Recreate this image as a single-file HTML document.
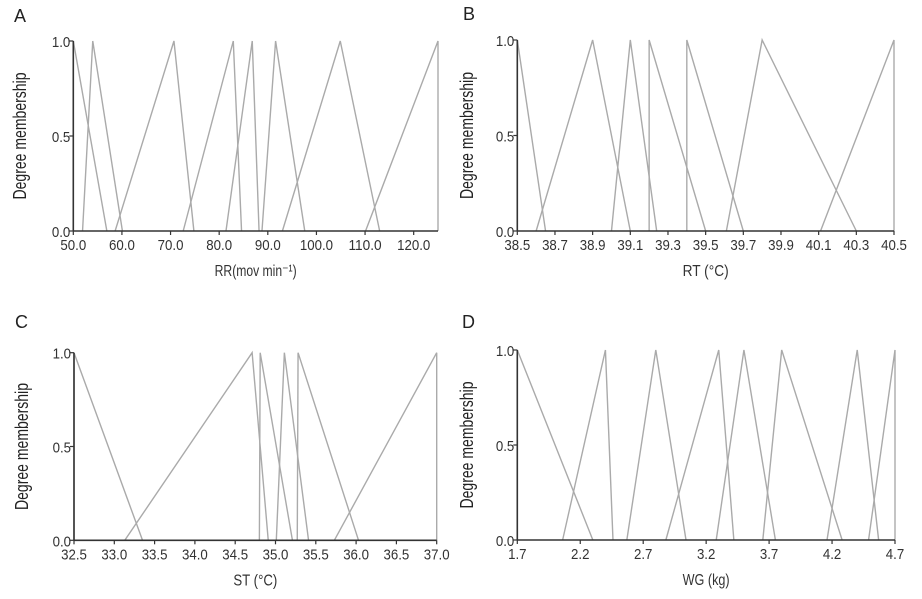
<!DOCTYPE html>
<html><head><meta charset="utf-8"><style>
html,body{margin:0;padding:0;background:#fff;}
svg{display:block;font-family:"Liberation Sans",sans-serif;}
</style></head><body>
<svg id="fig" width="922" height="599" viewBox="0 0 922 599"></svg>
<script>
// Panel A: RR
const aTicks=[50,60,70,80,90,100,110,120];
const aTickLabels=["50.0","60.0","70.0","80.0","90.0","100.0","110.0","120.0"];
const aTriangles=[[50,50,56.9],[51.9,54.0,60.1],[58.6,70.7,74.8],[72.6,82.9,84.6],[81.4,86.8,88.2],[88.8,91.6,97.6],[93.0,104.9,113.0],[110.1,125,125]];
// Panel B: RT
const bTicks=[38.5,38.7,38.9,39.1,39.3,39.5,39.7,39.9,40.1,40.3,40.5];
const bTickLabels=["38.5","38.7","38.9","39.1","39.3","39.5","39.7","39.9","40.1","40.3","40.5"];
const bTriangles=[[38.5,38.5,38.65],[38.6,38.9,39.1],[39.0,39.1,39.24],[39.2,39.2,39.5],[39.4,39.4,39.7],[39.61,39.8,40.3],[40.11,40.5,40.5]];
// Panel C: ST
const cTicks=[32.5,33,33.5,34,34.5,35,35.5,36,36.5,37];
const cTickLabels=["32.5","33.0","33.5","34.0","34.5","35.0","35.5","36.0","36.5","37.0"];
const cTriangles=[[32.5,32.5,33.35],[33.13,34.71,34.91],[34.8,34.81,35.21],[35.01,35.11,35.41],[35.27,35.28,36.03],[35.73,37,37]];
// Panel D: WG
const dTicks=[1.7,2.2,2.7,3.2,3.7,4.2,4.7];
const dTickLabels=["1.7","2.2","2.7","3.2","3.7","4.2","4.7"];
const dTriangles=[[1.7,1.7,2.3],[2.06,2.4,2.46],[2.57,2.8,3.04],[2.88,3.3,3.42],[3.28,3.5,3.75],[3.65,3.8,4.28],[4.16,4.4,4.57],[4.49,4.7,4.7]];
const yTicks=[0,0.5,1];
const yTickLabels=["0.0","0.5","1.0"];

const NS="http://www.w3.org/2000/svg";
const svg=document.getElementById('fig');
function mk(tag,attrs,parent){const e=document.createElementNS(NS,tag);for(const k in attrs)e.setAttribute(k,attrs[k]);(parent||svg).appendChild(e);return e;}
function tlen(s){let w=0;for(const c of s){w+=(c==='.'?3.6:7.4);}return w;}

function panel(cfg){
  const g=mk('g',{});
  
  
  const xmin=cfg.ticks[0], xmax=cfg.xmax;
  const X=v=>cfg.x0+(v-xmin)/(xmax-xmin)*(cfg.x1-cfg.x0);
  const Y=v=>cfg.yb+(cfg.yt-cfg.yb)*v;
  const L=mk('text',{x:cfg.lx,y:cfg.ly,'font-size':18,fill:'#222'},g);L.textContent=cfg.letter;
  
  
  cfg.tri.forEach((t,i)=>{
    const p=mk('polyline',{points:`${X(t[0])},${Y(0)} ${X(t[1])},${Y(1)} ${X(t[2])},${Y(0)}`,fill:'none',stroke:'#aaa','stroke-width':1.4},g);
    
    
  });
  const ax=mk('line',{x1:cfg.x0,y1:Y(0),x2:cfg.x1,y2:Y(0),stroke:'#333','stroke-width':1.6},g);
  
  
  const ay=mk('line',{x1:cfg.x0,y1:Y(0),x2:cfg.x0,y2:Y(1),stroke:'#333','stroke-width':1.6},g);
  
  
  cfg.ticks.forEach((v,i)=>{
    mk('line',{x1:X(v),y1:Y(0),x2:X(v),y2:Y(0)+4,stroke:'#333','stroke-width':1.2},g);
    const t=mk('text',{x:X(v),y:Y(0)+19,'font-size':15,'text-anchor':'middle',fill:'#333',textLength:tlen(cfg.labels[i]),lengthAdjust:'spacingAndGlyphs'},g);
    t.textContent=cfg.labels[i];
    
    
  });
  yTicks.forEach((v,i)=>{
    mk('line',{x1:cfg.x0-4,y1:Y(v),x2:cfg.x0,y2:Y(v),stroke:'#333','stroke-width':1.2},g);
    const t=mk('text',{x:cfg.x0-3,y:Y(v)+6,'font-size':15,'text-anchor':'end',fill:'#333',textLength:tlen(yTickLabels[i]),lengthAdjust:'spacingAndGlyphs'},g);
    t.textContent=yTickLabels[i];
    
    
  });
  const xt=mk('text',{x:(cfg.x0+cfg.x1)/2,y:Y(0)+45,'font-size':16,'text-anchor':'middle',fill:'#333',textLength:cfg.xtw,lengthAdjust:'spacingAndGlyphs'},g);
  xt.textContent=cfg.xtitle;
  
  
  const cy=(Y(0)+Y(1))/2;
  const yt=mk('text',{x:cfg.ytx,y:cy,'font-size':18,'text-anchor':'middle',fill:'#222',textLength:127,lengthAdjust:'spacingAndGlyphs',transform:`rotate(-90 ${cfg.ytx} ${cy})`},g);
  yt.textContent='Degree membership';
  
  
}
panel({letter:'A',lx:14,ly:22,x0:73.3,x1:438,xmax:125,yt:41,yb:231,ticks:aTicks,labels:aTickLabels,tri:aTriangles,xtitle:'RR(mov min⁻¹)',xtw:82,ytx:26});
panel({letter:'B',lx:463,ly:20,x0:517.3,x1:894,xmax:40.5,yt:40,yb:231,ticks:bTicks,labels:bTickLabels,tri:bTriangles,xtitle:'RT (°C)',xtw:46,ytx:473});
panel({letter:'C',lx:15,ly:328,x0:74,x1:436.7,xmax:37,yt:352.7,yb:540.3,ticks:cTicks,labels:cTickLabels,tri:cTriangles,xtitle:'ST (°C)',xtw:44,ytx:28});
panel({letter:'D',lx:462,ly:328,x0:517.3,x1:895,xmax:4.7,yt:350,yb:540,ticks:dTicks,labels:dTickLabels,tri:dTriangles,xtitle:'WG (kg)',xtw:47,ytx:473});
</script>
</body></html>
